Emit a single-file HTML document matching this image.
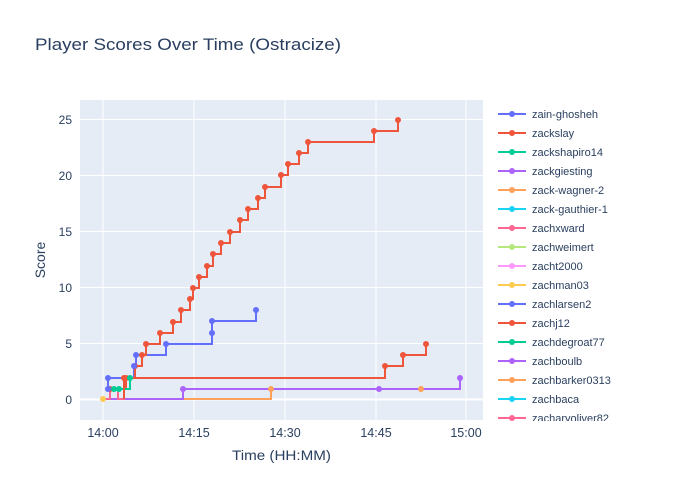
<!DOCTYPE html><html><head><style>body{margin:0;background:#fff}svg{display:block;font-family:"Liberation Sans",sans-serif}</style></head><body>
<svg width="700" height="500" xmlns="http://www.w3.org/2000/svg">
<rect width="700" height="500" fill="#fff"/>
<text x="35" y="50" font-size="17" fill="#2a3f5f" textLength="306" lengthAdjust="spacingAndGlyphs">Player Scores Over Time (Ostracize)</text>
<rect x="80" y="100" width="403" height="320" fill="#e5ecf6"/>
<g stroke="#fff" stroke-width="1">
<line x1="103" y1="100" x2="103" y2="420"/><line x1="194" y1="100" x2="194" y2="420"/><line x1="285" y1="100" x2="285" y2="420"/><line x1="376" y1="100" x2="376" y2="420"/><line x1="466" y1="100" x2="466" y2="420"/>
<line x1="80" y1="343.5" x2="483" y2="343.5"/><line x1="80" y1="287.5" x2="483" y2="287.5"/><line x1="80" y1="231.5" x2="483" y2="231.5"/><line x1="80" y1="175.5" x2="483" y2="175.5"/><line x1="80" y1="119.5" x2="483" y2="119.5"/>
<line x1="80" y1="399.5" x2="483" y2="399.5" stroke-width="2"/>
</g>
<g font-size="12" fill="#2a3f5f" text-anchor="end">
<text x="72" y="404">0</text><text x="72" y="348">5</text><text x="72" y="292">10</text><text x="72" y="236">15</text><text x="72" y="180">20</text><text x="72" y="124">25</text>
</g>
<g font-size="12.5" fill="#2a3f5f" text-anchor="middle">
<text x="103" y="437">14:00</text><text x="194" y="437">14:15</text><text x="285" y="437">14:30</text><text x="376" y="437">14:45</text><text x="466" y="437">15:00</text>
</g>
<text x="232" y="460" font-size="14" fill="#2a3f5f" textLength="99" lengthAdjust="spacingAndGlyphs">Time (HH:MM)</text>
<text x="45" y="260" font-size="14" fill="#2a3f5f" text-anchor="middle" transform="rotate(-90 45 260)">Score</text>
<g fill="none" stroke-width="2">
<polyline stroke="#FFA15A" points="103,399 271,399 271,389 421,389"/>
<polyline stroke="#AB63FA" points="103,399 183,399 183,389 379,389 460,389 460,378"/>
<polyline stroke="#FF6692" points="106,399 110,399 110,389 118,389 118,399 124,399 124,389"/>
<polyline stroke="#EF553B" points="110,389 126,389 126,378 385,378 385,366 403,366 403,355 426,355 426,344"/>
<polyline stroke="#00CC96" points="114,389 130,389 130,378"/>
<polyline stroke="#636EFA" points="108,389 108,378 134,378 134,366 136,366 136,355 166,355 166,344 212,344 212,333 212,321 256,321 256,310"/>
<polyline stroke="#EF553B" points="124,399 124,378 135,378 135,366 142,366 142,355 146,355 146,344 160,344 160,333 173,333 173,322 181,322 181,310 190,310 190,299 193,299 193,288 199,288 199,277 207,277 207,266 213,266 213,254 221,254 221,243 230,243 230,232 240,232 240,220 248,220 248,209 258,209 258,198 265,198 265,187 281,187 281,175 288,175 288,164 299,164 299,153 308,153 308,142 374,142 374,131 398,131 398,120"/>
</g>
<g fill="#EF553B">
<circle cx="124" cy="378" r="3"/><circle cx="135" cy="366" r="3"/><circle cx="142" cy="355" r="3"/><circle cx="146" cy="344" r="3"/><circle cx="160" cy="333" r="3"/><circle cx="173" cy="322" r="3"/><circle cx="181" cy="310" r="3"/><circle cx="190" cy="299" r="3"/><circle cx="193" cy="288" r="3"/><circle cx="199" cy="277" r="3"/><circle cx="207" cy="266" r="3"/><circle cx="213" cy="254" r="3"/><circle cx="221" cy="243" r="3"/><circle cx="230" cy="232" r="3"/><circle cx="240" cy="220" r="3"/><circle cx="248" cy="209" r="3"/><circle cx="258" cy="198" r="3"/><circle cx="265" cy="187" r="3"/><circle cx="281" cy="175" r="3"/><circle cx="288" cy="164" r="3"/><circle cx="299" cy="153" r="3"/><circle cx="308" cy="142" r="3"/><circle cx="374" cy="131" r="3"/><circle cx="398" cy="120" r="3"/>
<circle cx="110" cy="389" r="3"/><circle cx="126" cy="378" r="3"/><circle cx="385" cy="366" r="3"/><circle cx="403" cy="355" r="3"/><circle cx="426" cy="344" r="3"/>
</g>
<g fill="#636EFA"><circle cx="108" cy="389" r="3"/><circle cx="108" cy="378" r="3"/><circle cx="134" cy="366" r="3"/><circle cx="136" cy="355" r="3"/><circle cx="166" cy="344" r="3"/><circle cx="212" cy="333" r="3"/><circle cx="212" cy="321" r="3"/><circle cx="256" cy="310" r="3"/></g>
<g fill="#AB63FA"><circle cx="183" cy="389" r="3"/><circle cx="379" cy="389" r="3"/><circle cx="460" cy="378" r="3"/></g>
<g fill="#FFA15A"><circle cx="271" cy="389" r="3"/><circle cx="421" cy="389" r="3"/></g>
<g fill="#00CC96"><circle cx="114" cy="389" r="3"/><circle cx="119" cy="389" r="3"/><circle cx="130" cy="378" r="3"/></g>
<circle cx="103" cy="399" r="3" fill="#FECB52"/>
<g font-size="11" fill="#2a3f5f">
<g stroke-width="2">
<line x1="498" y1="114" x2="526" y2="114" stroke="#636EFA"/><line x1="498" y1="133" x2="526" y2="133" stroke="#EF553B"/><line x1="498" y1="152" x2="526" y2="152" stroke="#00CC96"/><line x1="498" y1="171" x2="526" y2="171" stroke="#AB63FA"/><line x1="498" y1="190" x2="526" y2="190" stroke="#FFA15A"/><line x1="498" y1="209" x2="526" y2="209" stroke="#19D3F3"/><line x1="498" y1="228" x2="526" y2="228" stroke="#FF6692"/><line x1="498" y1="247" x2="526" y2="247" stroke="#B6E880"/><line x1="498" y1="266" x2="526" y2="266" stroke="#FF97FF"/><line x1="498" y1="285" x2="526" y2="285" stroke="#FECB52"/><line x1="498" y1="304" x2="526" y2="304" stroke="#636EFA"/><line x1="498" y1="323" x2="526" y2="323" stroke="#EF553B"/><line x1="498" y1="342" x2="526" y2="342" stroke="#00CC96"/><line x1="498" y1="361" x2="526" y2="361" stroke="#AB63FA"/><line x1="498" y1="380" x2="526" y2="380" stroke="#FFA15A"/><line x1="498" y1="399" x2="526" y2="399" stroke="#19D3F3"/><line x1="498" y1="418" x2="526" y2="418" stroke="#FF6692"/>
</g>
<circle cx="512" cy="114" r="3" fill="#636EFA"/><circle cx="512" cy="133" r="3" fill="#EF553B"/><circle cx="512" cy="152" r="3" fill="#00CC96"/><circle cx="512" cy="171" r="3" fill="#AB63FA"/><circle cx="512" cy="190" r="3" fill="#FFA15A"/><circle cx="512" cy="209" r="3" fill="#19D3F3"/><circle cx="512" cy="228" r="3" fill="#FF6692"/><circle cx="512" cy="247" r="3" fill="#B6E880"/><circle cx="512" cy="266" r="3" fill="#FF97FF"/><circle cx="512" cy="285" r="3" fill="#FECB52"/><circle cx="512" cy="304" r="3" fill="#636EFA"/><circle cx="512" cy="323" r="3" fill="#EF553B"/><circle cx="512" cy="342" r="3" fill="#00CC96"/><circle cx="512" cy="361" r="3" fill="#AB63FA"/><circle cx="512" cy="380" r="3" fill="#FFA15A"/><circle cx="512" cy="399" r="3" fill="#19D3F3"/><circle cx="512" cy="418" r="3" fill="#FF6692"/>
<text x="532" y="118">zain-ghosheh</text><text x="532" y="137">zackslay</text><text x="532" y="156">zackshapiro14</text><text x="532" y="175">zackgiesting</text><text x="532" y="194">zack-wagner-2</text><text x="532" y="213">zack-gauthier-1</text><text x="532" y="232">zachxward</text><text x="532" y="251">zachweimert</text><text x="532" y="270">zacht2000</text><text x="532" y="289">zachman03</text><text x="532" y="308">zachlarsen2</text><text x="532" y="327">zachj12</text><text x="532" y="346">zachdegroat77</text><text x="532" y="365">zachboulb</text><text x="532" y="384">zachbarker0313</text><text x="532" y="403">zachbaca</text><text x="532" y="422">zacharyoliver82</text>
</g>
<rect x="490" y="421" width="210" height="20" fill="#fff"/>
</svg>
</body></html>
